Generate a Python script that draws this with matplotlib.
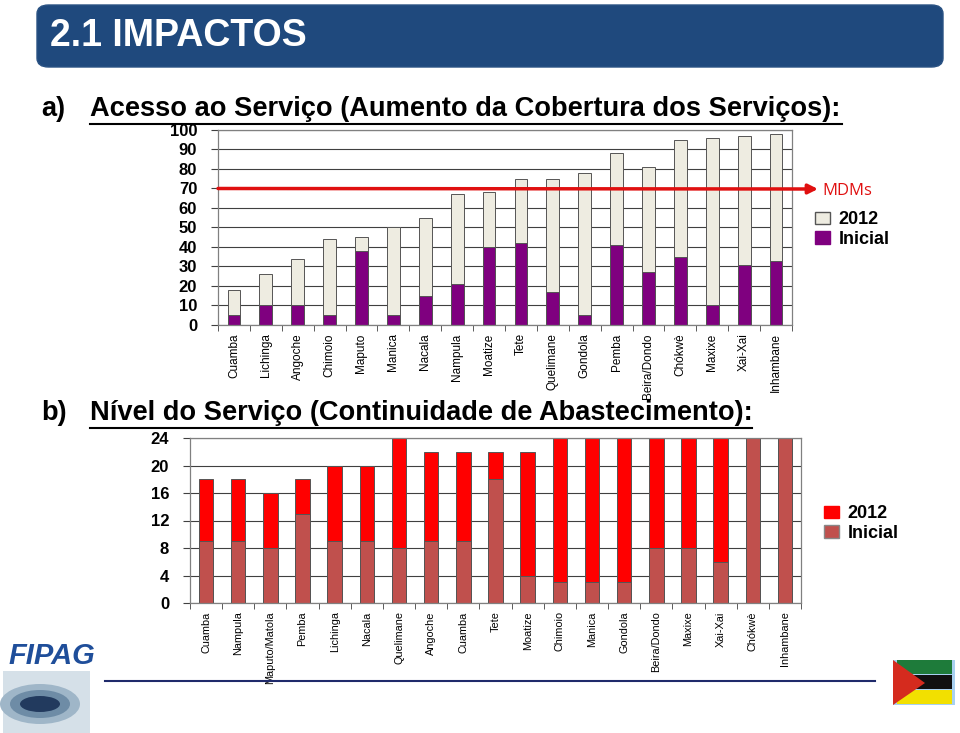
import numpy as np
import matplotlib
matplotlib.use("Agg")
import matplotlib.pyplot as plt
from matplotlib.patches import FancyBboxPatch, Rectangle, Polygon, Ellipse
from matplotlib.patches import Patch

# chart a) - service coverage (%)
cities_a = ['Cuamba', 'Lichinga', 'Angoche', 'Chimoio', 'Maputo', 'Manica', 'Nacala',
            'Nampula', 'Moatize', 'Tete', 'Quelimane', 'Gondola', 'Pemba', 'Beira/Dondo',
            'Chókwè', 'Maxixe', 'Xai-Xai', 'Inhambane']
cov_2012 = [18, 26, 34, 44, 45, 50, 55, 67, 68, 75, 75, 78, 88, 81, 95, 96, 97, 98]
cov_inicial = [5, 10, 10, 5, 38, 5, 15, 21, 40, 42, 17, 5, 41, 27, 35, 10, 31, 33]
mdm_target = 70

# chart b) - hours of supply
cities_b = ['Cuamba', 'Nampula', 'Maputo/Matola', 'Pemba', 'Lichinga', 'Nacala', 'Quelimane',
            'Angoche', 'Cuamba', 'Tete', 'Moatize', 'Chimoio', 'Manica', 'Gondola',
            'Beira/Dondo', 'Maxixe', 'Xai-Xai', 'Chókwè', 'Inhambane']
hrs_2012 = [18, 18, 16, 18, 20, 20, 24, 22, 22, 22, 22, 24, 24, 24, 24, 24, 24, 24, 24]
hrs_inicial = [9, 9, 8, 13, 9, 9, 8, 9, 9, 18, 4, 3, 3, 3, 8, 8, 6, 24, 24]

W, H = 960, 733
fig = plt.figure(figsize=(W / 100, H / 100), dpi=100)


def px_axes(x0, y0, x1, y1):
    # pixel box (top-left origin) -> figure axes
    return fig.add_axes([x0 / W, 1 - y1 / H, (x1 - x0) / W, (y1 - y0) / H])


def fx(x):
    return x / W


def fy(y):
    return 1 - y / H


sans = ['Liberation Sans', 'DejaVu Sans']

# title banner
fig.patches.append(FancyBboxPatch((fx(37), fy(67)), fx(906), 62 / H,
                                  boxstyle="round,pad=0,rounding_size=0.012",
                                  transform=fig.transFigure, facecolor='#1F497D',
                                  edgecolor='#2A5283', lw=1))
fig.text(fx(50), fy(36), '2.1 IMPACTOS', color='white', fontsize=27, fontweight='bold',
         family=sans, va='center', ha='left')

# headings
fig.text(fx(41), fy(109), 'a)', fontsize=19.6, fontweight='bold', family=sans, va='center')
fig.text(fx(90), fy(109), 'Acesso ao Serviço (Aumento da Cobertura dos Serviços):',
         fontsize=19.6, fontweight='bold', family=sans, va='center')
fig.add_artist(plt.Line2D([fx(90), fx(842)], [fy(124), fy(124)], color='black', lw=1.5))
fig.text(fx(41), fy(413), 'b)', fontsize=19.6, fontweight='bold', family=sans, va='center')
fig.text(fx(90), fy(413), 'Nível do Serviço (Continuidade de Abastecimento):',
         fontsize=19.6, fontweight='bold', family=sans, va='center')
fig.add_artist(plt.Line2D([fx(90), fx(752)], [fy(428), fy(428)], color='black', lw=1.5))


def style_axes(ax, ymax, step, labels, xsize):
    n = len(labels)
    ax.set_xlim(-0.5, n - 0.5)
    ax.set_ylim(0, ymax)
    ax.set_yticks(np.arange(0, ymax + 1, step))
    ax.yaxis.grid(True, color='#404040', lw=0.8)
    ax.set_axisbelow(True)
    ax.set_xticks(np.arange(n))
    ax.set_xticklabels(labels, rotation=90, family=sans, fontsize=xsize)
    ax.set_xticks(np.arange(n + 1) - 0.5, minor=True)
    ax.tick_params(axis='x', which='major', length=0, pad=6)
    ax.tick_params(axis='x', which='minor', length=4, color='#404040')
    ax.tick_params(axis='y', length=5, color='#404040', pad=10)
    for lab in ax.get_yticklabels():
        lab.set_fontweight('bold')
        lab.set_fontsize(12)
        lab.set_family(sans)
    for s in ax.spines.values():
        s.set_color('#808080')
        s.set_linewidth(0.9)


# chart a
axa = px_axes(218, 130, 792, 325)
xa = np.arange(len(cities_a))
axa.bar(xa, cov_2012, width=0.4, color='#EEECE1', edgecolor='#555555', lw=0.7)
axa.bar(xa, cov_inicial, width=0.4, color='#7F007F', edgecolor='#555555', lw=0.7)
style_axes(axa, 100, 10, cities_a, 8.5)
axa.annotate('', xy=(fx(818), fy(189)), xytext=(-0.5, mdm_target),
             xycoords='figure fraction', textcoords='data',
             arrowprops=dict(arrowstyle='-|>', color='#E01010', lw=2.5, mutation_scale=14,
                             shrinkA=0, shrinkB=0))
fig.text(fx(822), fy(191), 'MDMs', color='#E01010', fontsize=12, family=['Open Sans'],
         va='center')
axa.legend(handles=[Patch(facecolor='#EEECE1', edgecolor='#555555', label='2012'),
                    Patch(facecolor='#7F007F', edgecolor='#7F007F', label='Inicial')],
           loc='upper left', bbox_to_anchor=(fx(799), fy(195)), bbox_transform=fig.transFigure,
           frameon=False, prop=dict(family=sans, weight='bold', size=13),
           handlelength=0.8, handleheight=0.7, handletextpad=0.5, labelspacing=0.15)

# chart b
axb = px_axes(190, 438, 801, 603)
xb = np.arange(len(cities_b))
axb.bar(xb, hrs_2012, width=0.45, color='#FF0000', edgecolor='#555555', lw=0.7)
axb.bar(xb, hrs_inicial, width=0.45, color='#C0504D', edgecolor='#555555', lw=0.7)
style_axes(axb, 24, 4, cities_b, 7.8)
axb.legend(handles=[Patch(facecolor='#FF0000', edgecolor='#FF0000', label='2012'),
                    Patch(facecolor='#C0504D', edgecolor='#888888', label='Inicial')],
           loc='upper left', bbox_to_anchor=(fx(808), fy(489)), bbox_transform=fig.transFigure,
           frameon=False, prop=dict(family=sans, weight='bold', size=13),
           handlelength=0.8, handleheight=0.7, handletextpad=0.5, labelspacing=0.15)

# footer line and logos
fig.add_artist(plt.Line2D([fx(105), fx(875)], [fy(681), fy(681)], color='#1F2A6B', lw=1.5))
fig.text(fx(8), fy(656), 'FIPAG', color='#1F4E9A', fontsize=21, fontweight='bold',
         style='italic', family=sans, va='center')
fig.patches.append(Rectangle((fx(3), fy(733)), fx(87), 62 / H, transform=fig.transFigure,
                             facecolor='#D5E0E8', edgecolor='none'))
for w, h, c in [(80, 40, '#9FB6C8'), (60, 28, '#6E8CA6'), (40, 16, '#223A5E')]:
    fig.patches.append(Ellipse((fx(40), fy(704)), fx(w), h / H, transform=fig.transFigure,
                               facecolor=c, edgecolor='none'))
fig.patches.append(Rectangle((fx(893), fy(705)), fx(62), 45 / H, transform=fig.transFigure,
                             facecolor='#A8D0F0', edgecolor='none'))
for y0, c in [(660, '#1E7B3A'), (675, '#111111'), (690, '#F2E000')]:
    fig.patches.append(Rectangle((fx(897), fy(y0 + 14)), fx(55), 14 / H,
                                 transform=fig.transFigure, facecolor=c, edgecolor='none'))
fig.patches.append(Polygon([(fx(893), fy(660)), (fx(893), fy(705)), (fx(925), fy(683))],
                           closed=True, transform=fig.transFigure, facecolor='#D52B1E',
                           edgecolor='none'))

fig.savefig('out.png', dpi=100)
